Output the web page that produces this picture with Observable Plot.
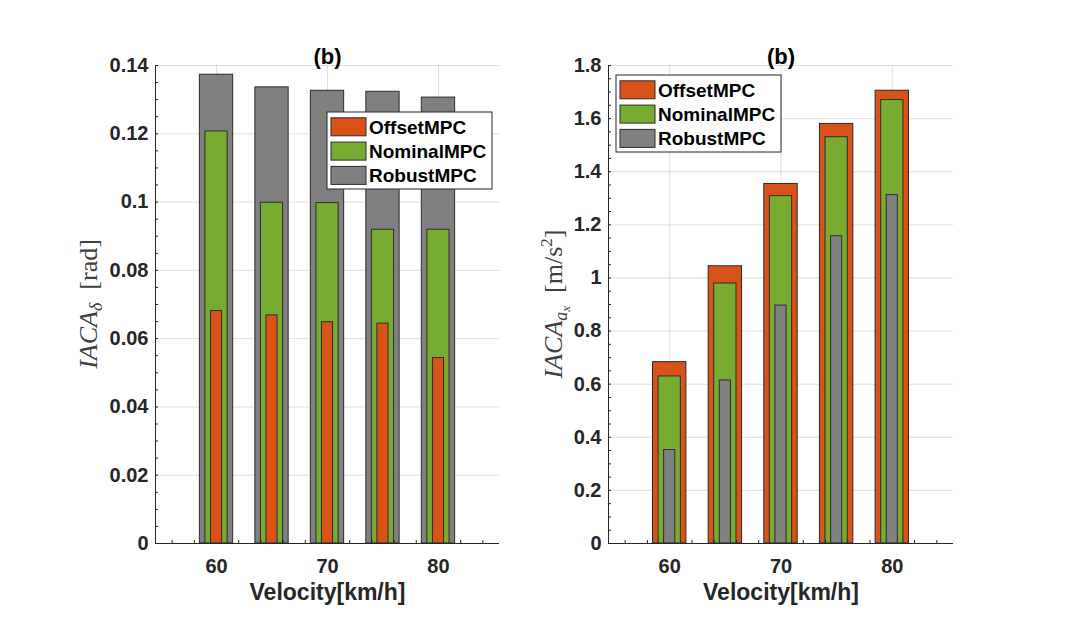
<!DOCTYPE html>
<html><head><meta charset="utf-8">
<script src="https://cdn.jsdelivr.net/npm/d3@7"></script>
<script src="https://cdn.jsdelivr.net/npm/@observablehq/plot@0.6"></script>
<style>
body{margin:0;background:#fff;}
#wrap{display:flex;width:1072px;height:629px;background:#fff;}
</style></head><body><div id="wrap"></div>
<script>
// ---- data ----
const velocity = [60, 65, 70, 75, 80];
const xTicks = [60, 70, 80];
const xMinor = [56, 58, 62, 64, 66, 68, 72, 74, 76, 78, 82, 84];
const seriesNames = ["OffsetMPC", "NominalMPC", "RobustMPC"];

// left panel: IACA_delta [rad]
const leftOffset  = [0.0681, 0.0668, 0.0648, 0.0644, 0.0543];
const leftNominal = [0.1207, 0.0998, 0.0997, 0.0919, 0.0919];
const leftRobust  = [0.1373, 0.1336, 0.1326, 0.1323, 0.1306];
const leftYTicks  = [0, 0.02, 0.04, 0.06, 0.08, 0.1, 0.12, 0.14];

// right panel: IACA_ax [m/s^2]
const rightOffset  = [0.683, 1.044, 1.354, 1.580, 1.705];
const rightNominal = [0.629, 0.979, 1.308, 1.530, 1.670];
const rightRobust  = [0.352, 0.614, 0.896, 1.157, 1.312];
const rightYTicks  = [0, 0.2, 0.4, 0.6, 0.8, 1, 1.2, 1.4, 1.6, 1.8];

// ---- styling ----
const colors = {OffsetMPC: "#D95319", NominalMPC: "#77AC30", RobustMPC: "#808080"};
const xDomain = [54.5, 85.5];
const sans = "'Liberation Sans', Arial, Helvetica, sans-serif";

function minorTicks(domain, step) {
  const n = Math.round((domain[1] - domain[0]) / step);
  return d3.range(n + 1).map(i => +(domain[0] + i * step).toFixed(6));
}

function panel({width, marginLeft, marginRight, yDomain, yTicks, yMinorStep, layers, legend, ylabel, ylabelX}) {
  const rows = (vals, half) => velocity.map((v, i) => ({x1: v - half, x2: v + half, y: vals[i]}));
  const plot = Plot.plot({
    width, height: 629,
    marginLeft, marginRight, marginTop: 65, marginBottom: 86,
    x: {domain: xDomain},
    y: {domain: yDomain},
    style: {fontFamily: sans, background: "#fff", color: "#262626", overflow: "visible"},
    marks: [
      Plot.gridX(xTicks, {stroke: "#262626", strokeOpacity: 0.15}),
      Plot.gridY(yTicks, {stroke: "#262626", strokeOpacity: 0.15}),
      ...layers.map(l => Plot.rectY(rows(l.values, l.half), {
        x1: "x1", x2: "x2", y1: 0, y2: "y",
        fill: colors[l.name], stroke: "#2b2b2b", strokeWidth: 1
      })),
      Plot.ruleY([yDomain[0]], {stroke: "#262626", strokeWidth: 1}),
      Plot.ruleX([xDomain[0]], {stroke: "#262626", strokeWidth: 1}),
      Plot.axisX(xTicks, {tickSize: 0, tickPadding: 15, fontSize: 20, fontWeight: "bold", label: null, fill: "#262626", tickFormat: d => String(d)}),
      Plot.axisX(xMinor, {tickSize: 3, dy: -3, text: null, label: null, stroke: "#262626"}),
      Plot.axisY(yTicks, {tickSize: 0, tickPadding: 7, fontSize: 20, fontWeight: "bold", label: null, fill: "#262626", tickFormat: d => String(d)}),
      Plot.axisY(minorTicks(yDomain, yMinorStep), {tickSize: 3, dx: 3, text: null, label: null, stroke: "#262626"}),
      Plot.text(["(b)"], {frameAnchor: "top", dy: -17, fontSize: 22, fontWeight: "bold", fill: "#000"}),
      Plot.text(["Velocity[km/h]"], {frameAnchor: "bottom", dy: 56, fontSize: 23, fontWeight: "bold", fill: "#262626"})
    ]
  });

  const svg = d3.select(plot);
  // legend
  const g = svg.append("g").attr("transform", `translate(${legend.x},${legend.y})`);
  g.append("rect").attr("width", 165).attr("height", 77).attr("fill", "#fff").attr("stroke", "#262626");
  seriesNames.forEach((name, i) => {
    const cy = 14.8 + i * 24.3;
    g.append("rect").attr("x", 4).attr("y", cy - 9).attr("width", 35).attr("height", 18)
      .attr("fill", colors[name]).attr("stroke", "#2b2b2b");
    g.append("text").attr("x", 42).attr("y", cy).attr("dy", "0.36em")
      .attr("text-anchor", "start")
      .style("font-family", sans).style("font-weight", "bold").style("font-size", "19px")
      .attr("fill", "#000").text(name);
  });
  // y label
  const t = svg.append("text")
    .attr("transform", `translate(${ylabelX},304) rotate(-90)`)
    .attr("text-anchor", "middle")
    .style("font-family", "'Liberation Serif', 'Times New Roman', serif")
    .style("font-size", "26px").attr("fill", "#404040");
  ylabel.forEach(p => {
    const s = t.append("tspan").text(p.text);
    if (p.italic) s.style("font-style", "italic");
    if (p.size) s.style("font-size", p.size + "px");
    if (p.dy) s.attr("dy", p.dy);
  });
  return plot;
}

const wrap = document.getElementById("wrap");
wrap.appendChild(panel({
  width: 536, marginLeft: 155, marginRight: 37,
  yDomain: [0, 0.14], yTicks: leftYTicks, yMinorStep: 0.005,
  layers: [
    {name: "RobustMPC", values: leftRobust, half: 1.5},
    {name: "NominalMPC", values: leftNominal, half: 1.0},
    {name: "OffsetMPC", values: leftOffset, half: 0.5}
  ],
  legend: {x: 327, y: 112},
  ylabelX: 97,
  ylabel: [
    {text: "IACA", italic: true},
    {text: "δ", italic: true, size: 18, dy: 5},
    {text: "\u2002[rad]", dy: -5}
  ]
}));
wrap.appendChild(panel({
  width: 536, marginLeft: 72, marginRight: 119,
  yDomain: [0, 1.8], yTicks: rightYTicks, yMinorStep: 0.05,
  layers: [
    {name: "OffsetMPC", values: rightOffset, half: 1.5},
    {name: "NominalMPC", values: rightNominal, half: 1.0},
    {name: "RobustMPC", values: rightRobust, half: 0.5}
  ],
  legend: {x: 80, y: 75},
  ylabelX: 26,
  ylabel: [
    {text: "IACA", italic: true},
    {text: "a", italic: true, size: 18, dy: 5},
    {text: "x", italic: true, size: 13, dy: 3},
    {text: "\u2002[m/s", dy: -8},
    {text: "2", size: 17, dy: -10},
    {text: "]", dy: 10}
  ]
}));
</script>
</body></html>
